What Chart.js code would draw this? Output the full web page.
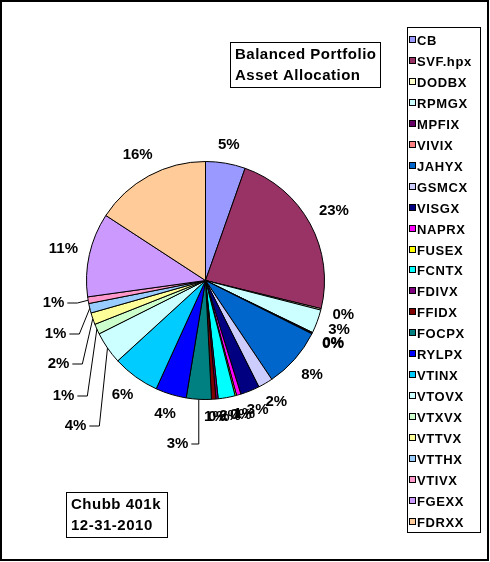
<!DOCTYPE html>
<html>
<head>
<meta charset="utf-8">
<script src="https://cdn.jsdelivr.net/npm/chart.js@4"></script>
<style>
  html, body { margin: 0; padding: 0; background: #fff; }
  canvas { display: block; }
</style>
</head>
<body>
<canvas id="pie" width="490" height="562"></canvas>
<script>
// fund tickers, in the order Excel draws them (clockwise from 12 o'clock)
const funds = ["CB", "SVF.hpx", "DODBX", "RPMGX", "MPFIX", "VIVIX", "JAHYX", "GSMCX",
  "VISGX", "NAPRX", "FUSEX", "FCNTX", "FDIVX", "FFIDX", "FOCPX", "RYLPX", "VTINX",
  "VTOVX", "VTXVX", "VTTVX", "VTTHX", "VTIVX", "FGEXX", "FDRXX"];

// share of the portfolio, percent
const shares = [5.4, 23.4, 0.2, 3.2, 0.1, 0.1, 8.2, 2.0,
  2.6, 0.6, 0.2, 2.3, 0.3, 0.6, 3.4, 4.2, 6.4,
  4.4, 1.4, 1.6, 1.3, 0.9, 11.4, 15.8];

// excel 2003 default fill palette
const fills = ["#9999FF", "#993366", "#FFFFCC", "#CCFFFF", "#660066", "#FF8080", "#0066CC", "#CCCCFF",
  "#000080", "#FF00FF", "#FFFF00", "#00FFFF", "#800080", "#800000", "#008080", "#0000FF", "#00CCFF",
  "#CCFFFF", "#CCFFCC", "#FFFF99", "#99CCFF", "#FF99CC", "#CC99FF", "#FFCC99"];

const titleLines = ["Balanced Portfolio", "Asset Allocation"];
const noteLines = ["Chubb 401k", "12-31-2010"];

// labels that excel pushed away and tied back with a leader line (offset from pie centre)
const movedLabels = {
  FOCPX: [-28, 163],
  VTOVX: [-130, 145],
  VTXVX: [-142, 115],
  VTTVX: [-147, 83],
  VTTHX: [-150, 53],
  VTIVX: [-152, 22]
};

const FONT = "'Liberation Sans', Arial, sans-serif";

function textBox(ctx, lines, x, y, w, h) {
  ctx.save();
  ctx.fillStyle = "#fff";
  ctx.fillRect(x, y, w, h);
  ctx.strokeStyle = "#000";
  ctx.lineWidth = 1;
  ctx.strokeRect(x + 0.5, y + 0.5, w, h);
  ctx.fillStyle = "#000";
  ctx.font = "bold 15px " + FONT;
  ctx.letterSpacing = "0.5px";
  ctx.textBaseline = "alphabetic";
  lines.forEach((t, i) => ctx.fillText(t, x + 5, y + 17 + i * 20.5));
  ctx.restore();
}

const percentLabels = {
  id: "percentLabels",
  afterDatasetsDraw(chart) {
    const ctx = chart.ctx;
    const arcs = chart.getDatasetMeta(0).data;
    const values = chart.data.datasets[0].data;
    const total = values.reduce((a, b) => a + b, 0);
    ctx.save();
    ctx.font = "bold 15px " + FONT;
    ctx.fillStyle = "#000";
    ctx.strokeStyle = "#000";
    ctx.lineWidth = 1;
    ctx.textAlign = "center";
    ctx.textBaseline = "middle";
    arcs.forEach((arc, i) => {
      const txt = Math.round(values[i] / total * 100) + "%";
      const mid = (arc.startAngle + arc.endAngle) / 2;
      const R = arc.outerRadius;
      const w = ctx.measureText(txt).width;
      const cx = arc.x, cy = arc.y;
      const moved = movedLabels[chart.data.labels[i]];
      if (moved) {
        const lx = cx + moved[0], ly = cy + moved[1];
        const px = cx + Math.cos(mid) * R, py = cy + Math.sin(mid) * R;
        const sx = lx + w / 2 + 3;
        const ex = Math.min(sx + 10, px);
        ctx.beginPath();
        ctx.moveTo(sx, ly + 0.5);
        ctx.lineTo(ex, ly + 0.5);
        ctx.lineTo(px, py);
        ctx.stroke();
        ctx.fillText(txt, lx, ly);
      } else {
        const d = R + 11 + (w / 2) * Math.abs(Math.cos(mid)) + 6 * Math.abs(Math.sin(mid));
        ctx.fillText(txt, cx + Math.cos(mid) * d, cy + Math.sin(mid) * d);
      }
    });
    ctx.restore();
  }
};

const frame = {
  id: "frame",
  afterDraw(chart) {
    const ctx = chart.ctx;
    ctx.save();
    ctx.strokeStyle = "#000";
    ctx.lineWidth = 2;
    ctx.strokeRect(1, 1, 487, 559);

    // legend
    ctx.lineWidth = 1;
    ctx.fillStyle = "#fff";
    ctx.fillRect(407, 27, 73, 505);
    ctx.strokeRect(407.5, 27.5, 73, 505);
    ctx.font = "bold 13px " + FONT;
    ctx.letterSpacing = "0.6px";
    ctx.textBaseline = "middle";
    chart.data.labels.forEach((name, i) => {
      const y = Math.round(40 + i * 20.95);
      ctx.fillStyle = fills[i];
      ctx.fillRect(409, y - 3, 6, 6);
      ctx.strokeRect(409.5, y - 3.5, 6, 6);
      ctx.fillStyle = "#000";
      ctx.fillText(name, 417, y + 1);
    });
    ctx.restore();

    textBox(ctx, titleLines, 230, 42, 150, 45);
    textBox(ctx, noteLines, 66, 492, 101, 45);
  }
};

new Chart(document.getElementById("pie"), {
  type: "pie",
  data: {
    labels: funds,
    datasets: [{
      data: shares,
      backgroundColor: fills,
      borderColor: "#000",
      borderWidth: 1,
      borderAlign: "center"
    }]
  },
  options: {
    responsive: false,
    animation: false,
    devicePixelRatio: 1,
    events: [],
    layout: { padding: { left: 86, top: 161, right: 165, bottom: 162 } },
    plugins: {
      legend: { display: false },
      tooltip: { enabled: false }
    }
  },
  plugins: [percentLabels, frame]
});
</script>
</body>
</html>
